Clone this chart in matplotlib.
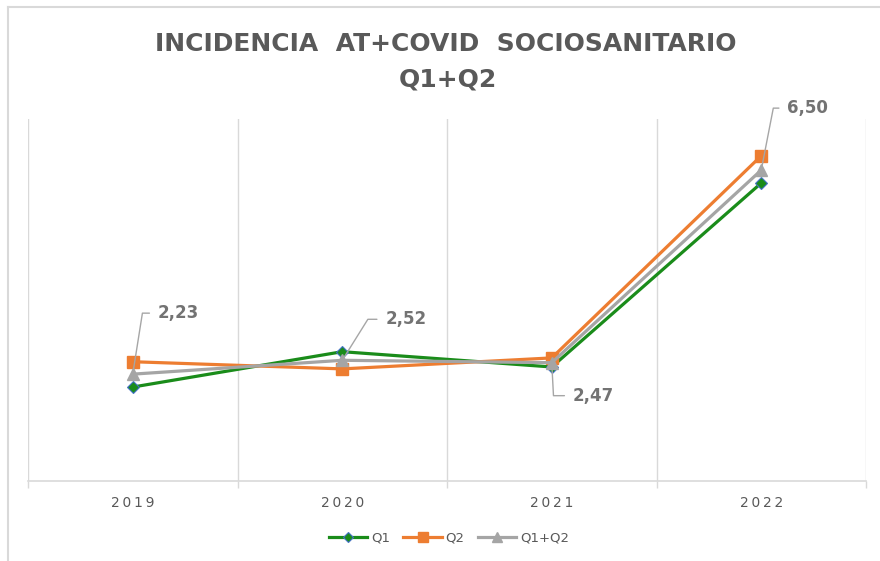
import numpy as np
import matplotlib
matplotlib.use("Agg")
import matplotlib.pyplot as plt
from matplotlib.lines import Line2D

# datos
years = ["2019", "2020", "2021", "2022"]
q1 = [1.96, 2.70, 2.38, 6.23]
q2 = [2.49, 2.34, 2.57, 6.80]
q1q2 = [2.23, 2.52, 2.47, 6.50]

# posicion de las etiquetas (pixeles respecto al punto) y angulo de la linea guia
label_off = [(25, 61), (43, 41), (21, -33), (26, 62)]
label_ang = [81, 58, -87, 79]

GRAY_TXT = "#595959"
GRID = "#d9d9d9"

fig = plt.figure(figsize=(8.8, 5.61), dpi=100)
ax = fig.add_axes([28/880, 1-480.7/561, 838/880, 361.7/561])

x = np.arange(len(years))
ax.plot(x, q1, color="#1a8c1a", lw=2.3, marker="D", ms=6.5,
        mfc="#1a8c1a", mec="#4472c4", mew=0.8, label="Q1")
ax.plot(x, q2, color="#ed7d31", lw=2.3, marker="s", ms=8.5,
        mfc="#ed7d31", mec="#ed7d31", label="Q2")
ax.plot(x, q1q2, color="#a5a5a5", lw=2.3, marker="^", ms=8,
        mfc="#a5a5a5", mec="#a5a5a5", label="Q1+Q2")

# etiquetas de datos con linea guia
for i, v in enumerate(q1q2):
    ax.annotate(f"{v:.2f}".replace(".", ","), xy=(i, v),
                xytext=label_off[i], textcoords="offset pixels",
                ha="left", va="center", fontsize=12, fontweight="bold",
                color="#737373",
                arrowprops=dict(arrowstyle="-", color="#a6a6a6", lw=1,
                                shrinkA=4, shrinkB=0, relpos=(0, 0.5),
                                connectionstyle=f"angle,angleA=0,angleB={label_ang[i]},rad=0"))

ax.set_xlim(-0.5, len(years) - 0.5)
ax.set_ylim(0, 7.57)
ax.set_yticks([])
ax.set_xticks(x)
ax.set_xticklabels(["\u2009".join(y) for y in years], fontsize=10, color=GRAY_TXT)
ax.set_xticks(np.arange(-0.5, len(years), 1), minor=True)
ax.tick_params(axis="x", which="major", length=0, pad=11)
ax.tick_params(axis="x", which="minor", length=5, color=GRID, width=1)
ax.grid(which="minor", axis="x", color=GRID, lw=1)
for s in ["left", "right", "top"]:
    ax.spines[s].set_visible(False)
ax.spines["bottom"].set_color(GRID)
ax.spines["bottom"].set_linewidth(1.2)

# titulo
fig.text(0.507, 1-44/561, "INCIDENCIA  AT+COVID  SOCIOSANITARIO", ha="center", va="center",
         fontsize=18, fontweight="bold", color=GRAY_TXT)
fig.text(0.509, 1-79/561, "Q1+Q2", ha="center", va="center",
         fontsize=18, fontweight="bold", color=GRAY_TXT)

# leyenda
fig.legend(loc="center", bbox_to_anchor=(449/880, 1-537.7/561), ncol=3, frameon=False,
           fontsize=9.5, labelcolor=GRAY_TXT, handlelength=2.9, handletextpad=0.3,
           columnspacing=1.0, markerscale=0.85)

# borde del area del grafico (recortado en la imagen)
fig.add_artist(Line2D([8/880, 8/880], [0, 1-7/561], color=GRID, lw=1.5))
fig.add_artist(Line2D([8/880, 1], [1-7/561, 1-7/561], color=GRID, lw=1.5))

fig.savefig("out.png", dpi=100, facecolor="white")
